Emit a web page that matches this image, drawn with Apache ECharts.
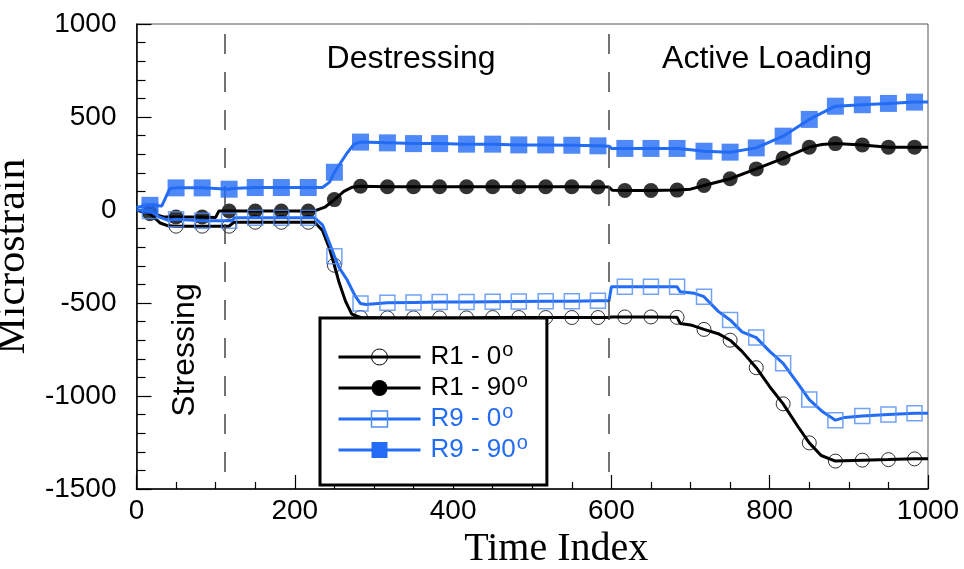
<!DOCTYPE html>
<html>
<head>
<meta charset="utf-8">
<script src="https://cdn.jsdelivr.net/npm/echarts@6/dist/echarts.min.js"></script>
<style>
html, body { margin: 0; padding: 0; background: #fff; }
#main { width: 964px; height: 569px; }
</style>
</head>
<body>
<div id="main"></div>
<script>
// marker positions along the time index (shared by all four gauges)
var markX = [17, 50, 83, 117, 150, 183, 217, 250, 283, 317, 350, 383, 417, 450, 483,
             517, 550, 583, 617, 650, 683, 717, 750, 783, 817, 850, 883, 917, 950, 983];

var r1_0_marks = [-20, -87, -87, -87, -66, -66, -66, -297, -578, -580, -580, -580, -580, -578, -578,
                  -578, -578, -578, -575, -575, -577, -642, -700, -848, -1042, -1252, -1350, -1345, -1342, -1338];
var r1_90_marks = [-15, -38, -38, -5, -5, -5, -5, 56, 128, 125, 125, 125, 125, 125, 125,
                   125, 125, 124, 105, 105, 107, 132, 168, 221, 278, 338, 357, 350, 338, 338];
var r9_0_marks = [-5, -50, -58, -58, -42, -42, -42, -248, -503, -499, -497, -495, -494, -493, -492,
                  -491, -490, -488, -413, -413, -413, -466, -591, -686, -824, -1019, -1130, -1108, -1099, -1093];
var r9_90_marks = [25, 119, 119, 112, 121, 121, 121, 203, 365, 361, 357, 357, 354, 354, 350,
                   350, 348, 345, 331, 331, 331, 316, 311, 334, 397, 487, 558, 566, 573, 580];

// extra readings between markers (line shape only)
var r1_0_path = [[0, 0], [30, -70], [40, -85], [119, -87], [123, -66], [225, -66], [235, -110], [244, -210],
                 [256, -390], [264, -490], [272, -560], [597, -578], [600, -575], [683, -577], [687, -610],
                 [700, -618], [735, -665], [765, -760], [800, -950], [835, -1160], [865, -1320], [1000, -1338]];
var r1_90_path = [[0, 0], [25, -25], [35, -38], [100, -40], [104, -6], [225, -5], [238, 15], [262, 100],
                  [272, 122], [597, 124], [601, 106], [700, 112], [866, 352], [1000, 338]];
var r9_0_path = [[0, 0], [30, -40], [40, -55], [120, -58], [124, -42], [225, -42], [235, -80], [244, -180],
                 [256, -310], [266, -375], [276, -460], [290, -508], [597, -488], [600, -413], [683, -413],
                 [687, -440], [705, -448], [735, -545], [765, -655], [800, -760], [835, -930], [867, -1085],
                 [895, -1115], [1000, -1093]];
var r9_90_path = [[0, 15], [32, 22], [42, 115], [120, 115], [235, 121], [244, 150], [265, 300], [275, 355],
                  [597, 343], [600, 331], [700, 324], [1000, 580]];

var phaseLines = [112, 597];

var black = '#000';
var blue = '#236cf5';
var lightBlue = '#4f8cf5';

function mergePts(path, marks) {
    var pts = path.map(p => [p[0], p[1]]);
    markX.forEach((x, i) => pts.push([x, marks[i]]));
    pts.sort((a, b) => a[0] - b[0]);
    return pts;
}

function markPts(marks) {
    return markX.map((x, i) => [x, marks[i]]);
}

var defs = [
    {name: 'R1 - 0', path: r1_0_path, marks: r1_0_marks, color: black, symbol: 'circle', size: 14,
        item: {color: 'rgba(0,0,0,0)', borderColor: black, borderWidth: 1}},
    {name: 'R1 - 90', path: r1_90_path, marks: r1_90_marks, color: black, symbol: 'circle', size: 15,
        item: {color: black, borderColor: black, borderWidth: 0}},
    {name: 'R9 - 0', path: r9_0_path, marks: r9_0_marks, color: blue, symbol: 'rect', size: 15,
        item: {color: 'rgba(0,0,0,0)', borderColor: lightBlue, borderWidth: 1.5}},
    {name: 'R9 - 90', path: r9_90_path, marks: r9_90_marks, color: blue, symbol: 'rect', size: 17,
        item: {color: blue, borderColor: blue, borderWidth: 0}}
];

var series = [];
defs.forEach((d, i) => {
    series.push({
        name: d.name,
        type: 'line',
        data: mergePts(d.path, d.marks),
        showSymbol: false,
        symbol: d.symbol,
        symbolSize: d.size,
        lineStyle: {color: d.color, width: 3},
        itemStyle: d.item,
        z: 2 + i,
        markLine: i === 0 ? {
            silent: true,
            symbol: 'none',
            label: {show: false},
            lineStyle: {color: '#444', width: 1.5, type: [20, 18], dashOffset: 21},
            data: phaseLines.map(v => ({xAxis: v}))
        } : undefined
    });
    series.push({
        name: d.name + ' marks',
        type: 'scatter',
        data: markPts(d.marks),
        symbol: d.symbol,
        symbolSize: d.size,
        itemStyle: d.item,
        z: 2 + i
    });
});

var legendData = defs.map(d => ({
    name: d.name,
    itemStyle: d.item,
    lineStyle: {color: d.color, width: 3},
    textStyle: {color: d.color}
}));

var myChart = echarts.init(document.getElementById('main'));

var option = {
    backgroundColor: '#fff',
    animation: false,
    grid: {
        left: 136.5,
        right: 36,
        top: 24,
        bottom: 80,
        outerBoundsMode: 'none',
        containLabel: false,
        show: true,
        borderColor: '#555',
        borderWidth: 1
    },
    xAxis: {
        type: 'value',
        min: 0,
        max: 1000,
        interval: 200,
        name: 'Time Index',
        nameLocation: 'middle',
        nameGap: 38,
        nameTextStyle: {fontFamily: 'Liberation Serif', fontSize: 40, color: '#000', padding: [0, 0, 0, 48]},
        axisLine: {onZero: false, lineStyle: {color: '#000', width: 1.5}},
        axisTick: {inside: true, length: 14, lineStyle: {color: '#000', width: 1.2}},
        minorTick: {show: true, splitNumber: 4, length: 7, lineStyle: {color: '#000', width: 1.2}},
        axisLabel: {fontFamily: 'Liberation Sans', fontSize: 28, color: '#000', margin: 8, formatter: v => String(v)},
        splitLine: {show: false}
    },
    yAxis: {
        type: 'value',
        min: -1500,
        max: 1000,
        interval: 500,
        name: 'Microstrain',
        nameLocation: 'middle',
        nameGap: 88,
        nameRotate: 90,
        nameTextStyle: {fontFamily: 'Liberation Serif', fontSize: 42, color: '#000'},
        axisLine: {onZero: false, lineStyle: {color: '#000', width: 1.5}},
        axisTick: {inside: true, length: 15, lineStyle: {color: '#000', width: 1.2}},
        minorTick: {show: true, splitNumber: 5, length: 9, lineStyle: {color: '#000', width: 1.2}},
        axisLabel: {fontFamily: 'Liberation Sans', fontSize: 28, color: '#000', margin: 20, formatter: v => String(v)},
        splitLine: {show: false}
    },
    legend: {
        data: legendData,
        orient: 'vertical',
        left: 320,
        top: 318,
        padding: [22, 19, 18, 17],
        itemWidth: 82,
        itemHeight: 20,
        itemGap: -3,
        backgroundColor: '#fff',
        borderColor: '#000',
        borderWidth: 3,
        borderRadius: 0,
        textStyle: {
            fontSize: 26,
            fontFamily: 'Liberation Sans',
            padding: [0, 0, 0, 5],
            rich: {
                a: {fontSize: 26, fontFamily: 'Liberation Sans', lineHeight: 26},
                s: {fontSize: 20, fontFamily: 'Liberation Sans', lineHeight: 20, padding: [0, 0, 14, 1]}
            }
        },
        formatter: name => '{a|' + name + '}{s|o}',
        z: 10
    },
    graphic: [
        {type: 'text', x: 411, y: 59, z: 5,
            style: {text: 'Destressing', fontSize: 32, fontFamily: 'Liberation Sans', fill: '#000', align: 'center', verticalAlign: 'middle'}},
        {type: 'text', x: 767, y: 59, z: 5,
            style: {text: 'Active Loading', fontSize: 32, fontFamily: 'Liberation Sans', fill: '#000', align: 'center', verticalAlign: 'middle'}},
        {type: 'text', x: 185, y: 350, rotation: Math.PI / 2, z: 5,
            style: {text: 'Stressing', fontSize: 32, fontFamily: 'Liberation Sans', fill: '#000', align: 'center', verticalAlign: 'middle'}}
    ],
    series: series
};

myChart.setOption(option);
</script>
</body>
</html>
